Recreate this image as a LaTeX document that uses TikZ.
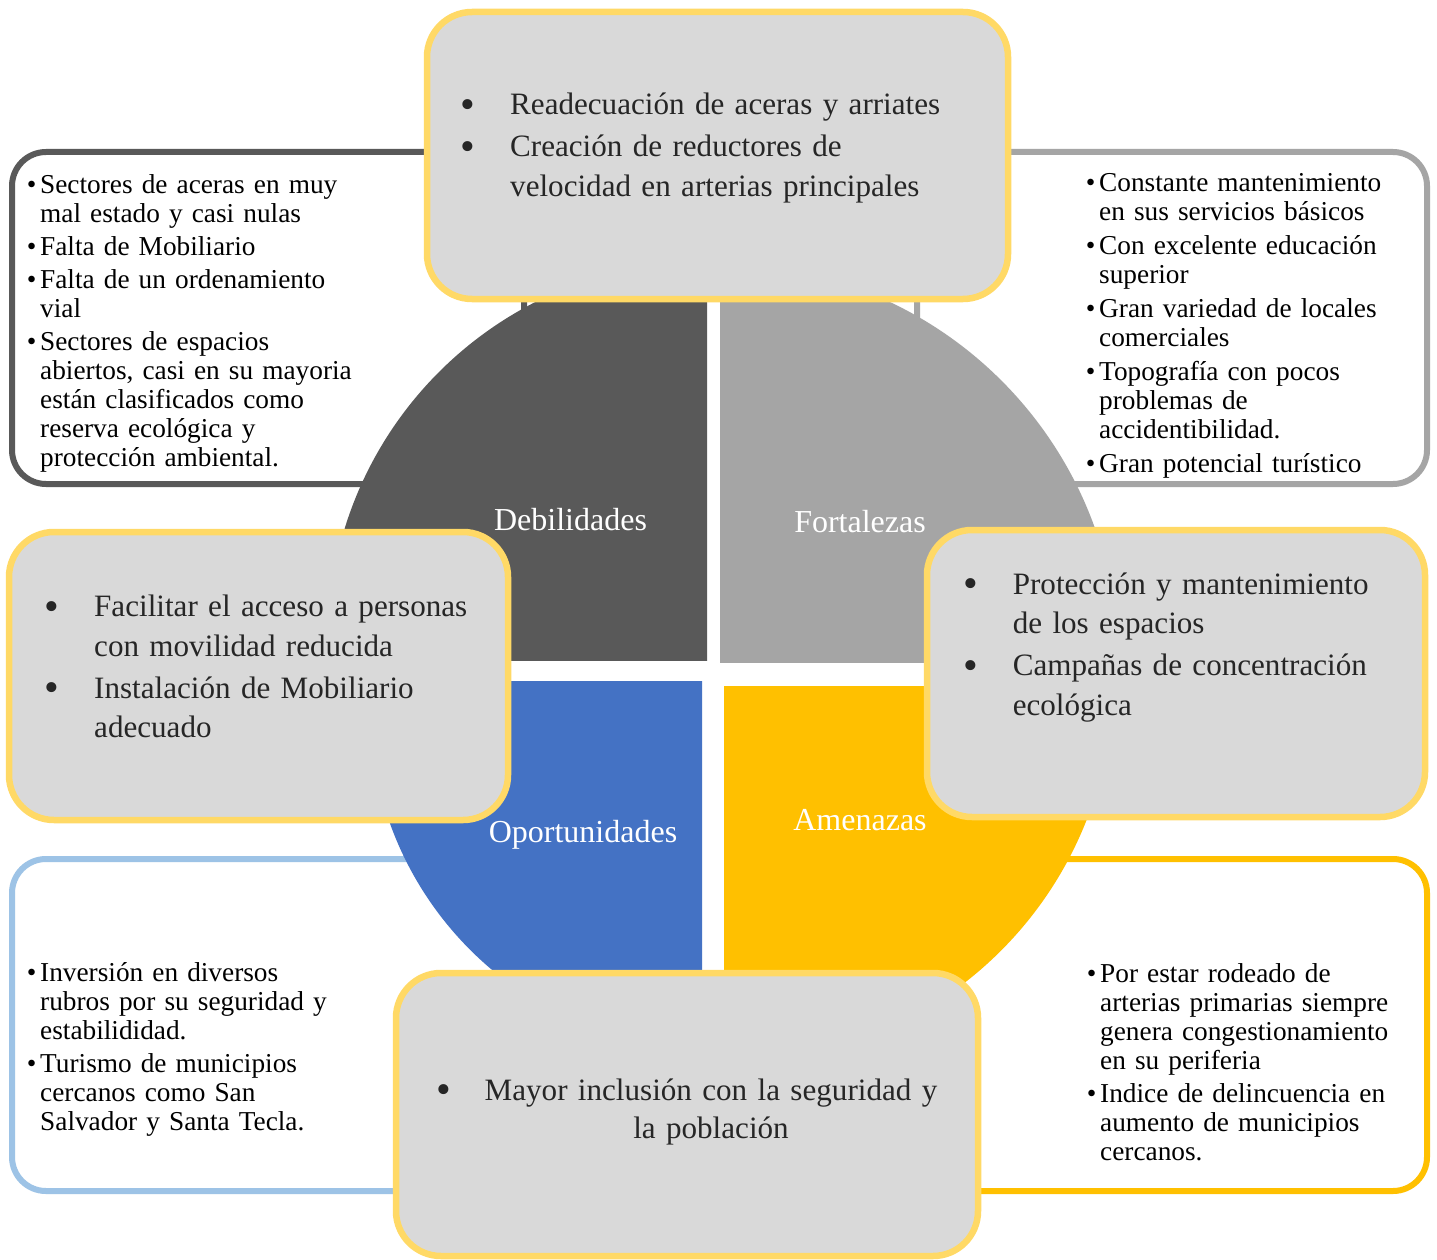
\documentclass[tikz,border=0pt]{standalone}
\usepackage{fontspec}
\setmainfont{Liberation Serif}
\definecolor{cdark}{HTML}{595959}
\definecolor{cgray}{HTML}{A5A5A5}
\definecolor{cblue}{HTML}{4472C4}
\definecolor{cyel}{HTML}{FFC000}
\definecolor{clblue}{HTML}{9DC3E6}
\definecolor{cboxfill}{HTML}{D9D9D9}
\definecolor{cboxline}{HTML}{FFD966}
\definecolor{ctext}{HTML}{262626}
\newcommand\obul{\leavevmode\llap{\makebox[0pt][c]{\textbullet}\hspace{8.5pt}}}
\newcommand\bigbul{\raisebox{-3.5pt}{\scalebox{1.35}{\textbullet}}}
\newcommand\ibul{\leavevmode\llap{\makebox[0pt][c]{\bigbul}\hspace{42pt}}}
\tikzset{
  outerbox/.style={line width=6pt, fill=white, rounded corners=34pt},
  innerbox/.style={line width=6.5pt, draw=cboxline, fill=cboxfill, rounded corners=45pt},
  olist/.style={anchor=base west, inner sep=0pt, text width=400pt, align=left, text=black, font=\fontsize{27.3}{29}\selectfont},
  ilist/.style={anchor=base west, inner sep=0pt, text width=560pt, align=left, text=ctext, font=\fontsize{31.1}{39.5}\selectfont},
  qlabel/.style={anchor=base, inner sep=0pt, text=white, font=\fontsize{32}{38}\selectfont}
}
\begin{document}
\begin{tikzpicture}[x=1pt,y=-1pt]
\useasboundingbox (0,0) rectangle (1437,1260);
\fill[white] (0,0) rectangle (1437,1260);

% outer boxes
\draw[outerbox, draw=cdark]  (12,152) rectangle (524,484);
\draw[outerbox, draw=cgray]  (917,152) rectangle (1427,484);
\draw[outerbox, draw=clblue] (12,859) rectangle (524,1191);
\draw[outerbox, draw=cyel]   (917,859) rectangle (1427,1191);

% quadrants
\begin{scope}
  \clip (0,0) rectangle (707,660);
  \fill[cdark] (707,640) circle[radius=379pt];
\end{scope}
\begin{scope}
  \clip (720,0) rectangle (1437,662);
  \fill[cgray] (720,662) circle[radius=398pt];
\end{scope}
\begin{scope}
  \clip (0,681) rectangle (702,1260);
  \fill[cblue] (712,708) circle[radius=342pt];
\end{scope}
\begin{scope}
  \clip (724,686) rectangle (1437,1260);
  \fill[cyel] (730,680) circle[radius=383pt];
\end{scope}

% quadrant labels
\node[qlabel] (lDeb) at (570.5,530) {Debilidades};
\node[qlabel] (lFor) at (860,532) {Fortalezas};
\node[qlabel] (lOpo) at (583,842) {Oportunidades};
\node[qlabel] (lAme) at (860,830) {Amenazas};

% outer texts
\node[olist] (tDeb) at (40,193.3) {\obul Sectores de aceras en muy\\ mal estado y casi nulas\\[4pt]
\obul Falta de Mobiliario\\[4pt]
\obul Falta de un ordenamiento\\ vial\\[4pt]
\obul Sectores de espacios\\ abiertos, casi en su mayoria\\ están clasificados como\\ reserva ecológica y\\ protección ambiental.};
\node[olist] (tFor) at (1099,191.7) {\obul Constante mantenimiento\\ en sus servicios básicos\\[5pt]
\obul Con excelente educación\\ superior\\[5pt]
\obul Gran variedad de locales\\ comerciales\\[5pt]
\obul Topografía con pocos\\ problemas de\\ accidentibilidad.\\[5pt]
\obul Gran potencial turístico};
\node[olist] (tOpo) at (40,981.7) {\obul Inversión en diversos\\ rubros por su seguridad y\\ estabilididad.\\[4pt]
\obul Turismo de municipios\\ cercanos como San\\ Salvador y Santa Tecla.};
\node[olist] (tAme) at (1100,982.9) {\obul Por estar rodeado de\\ arterias primarias siempre\\ genera congestionamiento\\ en su periferia\\[4pt]
\obul Indice de delincuencia en\\ aumento de municipios\\ cercanos.};

% inner boxes
\draw[innerbox] (427,12) rectangle (1008,299);
\draw[innerbox] (9,532) rectangle (508,820);
\draw[innerbox] (927,530) rectangle (1425,817);
\draw[innerbox] (396,973) rectangle (978,1256);

\node[ilist] (iTop) at (510,115) {\ibul Readecuación de aceras y arriates\\[2.5pt]
\ibul Creación de reductores de\\ velocidad en arterias principales};
\node[ilist] (iLeft) at (94,616.7) {\ibul Facilitar el acceso a personas\\ con movilidad reducida\\[2.5pt]
\ibul Instalación de Mobiliario\\ adecuado};
\node[ilist] (iRight) at (1012.6,594) {\ibul Protección y mantenimiento\\ de los espacios\\[2.5pt]
\ibul Campañas de concentración\\ ecológica};
\node[anchor=base, inner sep=0pt, text=ctext, font=\fontsize{31.1}{38}\selectfont] (iBotB) at (444,1100) {\bigbul};
\node[anchor=base, inner sep=0pt, text width=560pt, align=center, text=ctext, font=\fontsize{31.1}{38}\selectfont] (iBot) at (711,1100) {Mayor inclusión con la seguridad y\\ la población};
\end{tikzpicture}
\end{document}
